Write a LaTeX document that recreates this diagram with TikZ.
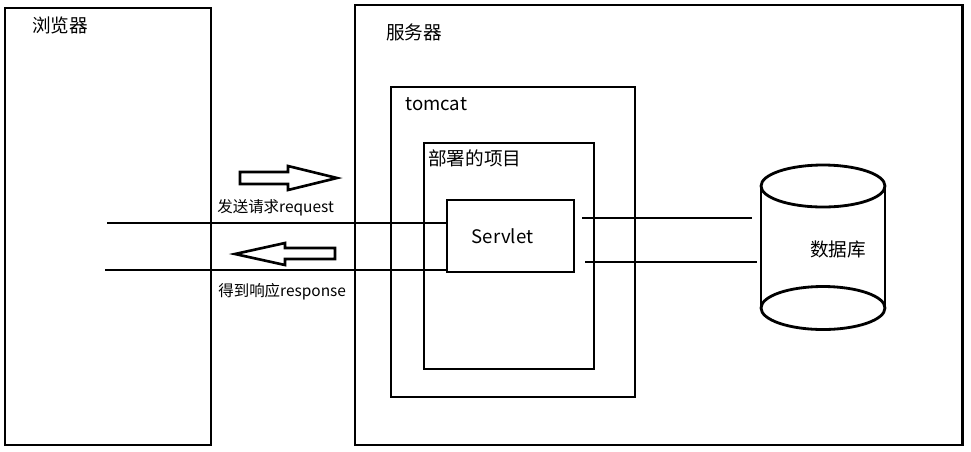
\documentclass[tikz,border=0pt]{standalone}
\usepackage{fontspec}
\setmainfont{Noto Sans CJK SC}
\usetikzlibrary{positioning}

\begin{document}
\begin{tikzpicture}[x=0.02cm, y=-0.02cm,
  frame/.style={draw, line width=1.6pt, anchor=north west, inner sep=0pt, outer sep=0pt},
  title/.style={font=\fontsize{10.6}{12}\selectfont, anchor=west, inner sep=0pt},
  tag/.style={font=\fontsize{8.8}{10}\selectfont, anchor=west, inner sep=0pt},
  wire/.style={line width=1.6pt},
  blockarr/.style={draw, line width=1.5pt, line join=miter}
]
\useasboundingbox (0,0) rectangle (971,451);

% boxes
\node[frame, minimum width=4.12cm, minimum height=8.74cm] (browser) at (5,8) {};
\node[frame, minimum width=12.16cm, minimum height=8.8cm] (server) at (355,5) {};
\node[frame, minimum width=4.88cm, minimum height=6.2cm] (tomcat) at (391,87) {};
\node[frame, minimum width=3.4cm, minimum height=4.52cm] (project) at (424,143) {};
\node[frame, minimum width=2.54cm, minimum height=1.44cm,
      font=\fontsize{10.6}{12}\selectfont] (servlet) at (447,200) {Servlet\kern0.32cm};

\node[title] (browsertitle) at (32,25) {浏览器};
\node[title] (servertitle) at (386,32) {服务器};
\node[title] (tomcattitle) at (405,104) {tomcat};
\node[title] (projecttitle) at (428,158) {部署的项目};

% request / response
\coordinate (reqstart) at (107,223);
\coordinate (respstart) at (105,270);
\draw[wire] (reqstart) -- (reqstart -| servlet.west);
\draw[wire] (respstart) -- (respstart -| servlet.west);

\draw[blockarr] (240,172) -- (288,172) -- (288,166) -- (337,178)
  -- (288,190) -- (288,184) -- (240,184) -- cycle;
\draw[blockarr] (335,248) -- (285,248) -- (285,243) -- (235,254)
  -- (285,265) -- (285,259) -- (335,259) -- cycle;

\node[tag] (reqlabel) at (217,208) {发送请求request};
\node[tag] (resplabel) at (218,292) {得到响应response};

% database
\coordinate (dbtop) at (823,186);
\coordinate (dbbot) at (823,308);
\draw[wire] (dbtop) ellipse [x radius=1.24cm, y radius=0.42cm];
\draw[wire] (dbbot) ellipse [x radius=1.24cm, y radius=0.43cm];
\draw[wire] ([xshift=-1.24cm]dbtop) -- ([xshift=-1.24cm]dbbot);
\draw[wire] ([xshift=1.24cm]dbtop) -- ([xshift=1.24cm]dbbot);
\node[title] (db) at (810,249) {数据库};

\coordinate (qa) at (582,218);
\coordinate (qb) at (752,218);
\coordinate (ra) at (585,262);
\coordinate (rb) at (757,262);
\draw[wire] (qa) -- (qb);
\draw[wire] (ra) -- (rb);

\end{tikzpicture}
\end{document}
